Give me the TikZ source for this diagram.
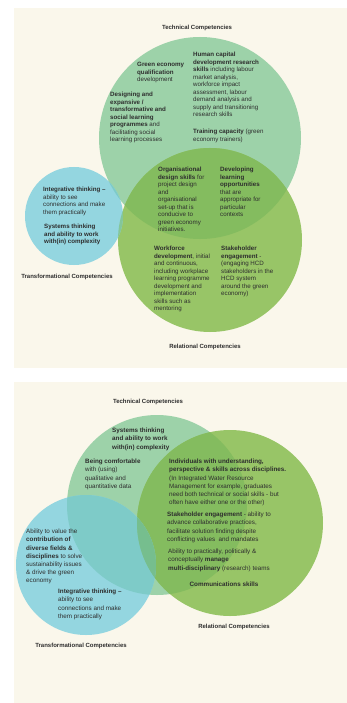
\documentclass[tikz,border=0pt]{standalone}
\usepackage{fontspec}
\setmainfont{Liberation Sans}
\definecolor{cream}{HTML}{FAF7EB}
\definecolor{techc}{HTML}{9DD2A9}
\definecolor{relc}{HTML}{98C567}
\definecolor{bluec}{HTML}{94D6E0}
\definecolor{trcol}{HTML}{84BC5F}
\definecolor{tbcol}{HTML}{7ECBC8}
\definecolor{brcol}{HTML}{84C69A}
\definecolor{tbrcol}{HTML}{76BE8E}
\definecolor{txt}{HTML}{2E2E2E}
\tikzset{
  lab/.style={font=\fontsize{6}{7}\selectfont\bfseries, text=txt, inner sep=0},
  tA/.style={anchor=north west, align=left, inner sep=0, font=\fontsize{6.2}{7.5}\selectfont, text=txt},
  tB/.style={anchor=north west, align=left, inner sep=0, font=\fontsize{6.3}{8.2}\selectfont, text=txt},
}
\begin{document}
\begin{tikzpicture}[x=1pt,y=-1pt]
\useasboundingbox (0,0) rectangle (347,703);
\fill[white] (0,0) rectangle (347,703);
\fill[cream] (14,8) rectangle (347,368);
\fill[cream] (14,382) rectangle (347,703);
% ---------- panel 1 circles ----------
\def\TA{(200,138) circle[radius=101pt]}
\def\RA{(210,240) circle[radius=92pt]}
\def\BA{(74,216) circle[radius=49pt]}
\fill[techc] \TA;
\fill[relc] \RA;
\fill[bluec] \BA;
\begin{scope}\clip \TA; \fill[trcol] \RA; \end{scope}
\begin{scope}\clip \BA; \fill[tbcol] \TA; \end{scope}
\begin{scope}\clip \BA; \fill[brcol] \RA; \end{scope}
% ---------- panel 2 circles ----------
\def\TB{(157,505) circle[radius=90pt]}
\def\RB{(230,523) circle[radius=93pt]}
\def\BB{(86,565) circle[radius=70pt]}
\fill[techc] \TB;
\fill[relc] \RB;
\fill[bluec] \BB;
\begin{scope}\clip \TB; \fill[trcol] \RB; \end{scope}
\begin{scope}\clip \BB; \fill[tbcol] \TB; \end{scope}
\begin{scope}\clip \BB; \fill[brcol] \RB; \end{scope}
\begin{scope}\clip \BB; \clip \TB; \fill[tbrcol] \RB; \end{scope}
% ---------- panel 1 text ----------
\node[lab] (tc1) at (197,28) {Technical Competencies};
\node[lab] (tr1) at (67,277) {Transformational Competencies};
\node[lab] (rl1) at (205,347) {Relational Competencies};
\node[tA] (geq) at (137,62) {\textbf{Green economy}\\\textbf{qualification}\\development};
\node[tA] (hcd) at (193,52) {\textbf{Human capital}\\\textbf{development research}\\\textbf{skills} including labour\\market analysis,\\workforce impact\\assessment, labour\\demand analysis and\\supply and transitioning\\research skills};
\node[tA] (trn) at (193,129) {\textbf{Training capacity} (green\\economy trainers)};
\node[tA] (des) at (110,92) {\textbf{Designing and}\\\textbf{expansive /}\\\textbf{transformative and}\\\textbf{social learning}\\\textbf{programmes} and\\facilitating social\\learning processes};
\node[tA] (org) at (158,167) {\textbf{Organisational}\\\textbf{design skills} for\\project design\\and\\organisational\\set-up that is\\conducive to\\green economy\\initiatives.};
\node[tA] (dev) at (220,167) {\textbf{Developing}\\\textbf{learning}\\\textbf{opportunities}\\that are\\appropriate for\\particular\\contexts};
\node[tA] (int1) at (43,187) {\textbf{Integrative thinking –}\\ability to see\\connections and make\\them practically};
\node[tA] (sys1) at (44,224) {\textbf{Systems thinking}\\\textbf{and ability to work}\\\textbf{with(in) complexity}};
\node[tA] (wf) at (154,246) {\textbf{Workforce}\\\textbf{development}, initial\\and continuous,\\including workplace\\learning programme\\development and\\implementation\\skills such as\\mentoring};
\node[tA] (stk1) at (221,246) {\textbf{Stakeholder}\\\textbf{engagement} -\\(engaging HCD\\stakeholders in the\\HCD system\\around the green\\economy)};
% ---------- panel 2 text ----------
\node[lab] (tc2) at (148,402) {Technical Competencies};
\node[lab] (tr2) at (81,646) {Transformational Competencies};
\node[lab] (rl2) at (234,627) {Relational Competencies};
\node[tB] (sys2) at (112,428) {\textbf{Systems thinking}\\\textbf{and ability to work}\\\textbf{with(in) complexity}};
\node[tB] (com) at (85,459) {\textbf{Being comfortable}\\with (using)\\qualitative and\\quantitative data};
\node[tB] (ind) at (169,459) {\textbf{Individuals with understanding,}\\\textbf{perspective \& skills across disciplines.}\\(In Integrated Water Resource\\Management for example, graduates\\need both technical or social skills - but\\often have either one or the other)};
\node[tB] (stk2) at (167,512) {\textbf{Stakeholder engagement} - ability to\\advance collaborative practices,\\facilitate solution finding despite\\conflicting values\ \ and mandates};
\node[tB] (mng) at (168,549) {Ability to practically, politically \&\\conceptually \textbf{manage}\\\textbf{multi-disciplinary} (research) teams};
\node[lab, font=\fontsize{6.3}{7}\selectfont\bfseries] (cms) at (224,584) {Communications skills};
\node[tB] (val) at (26,529) {Ability to value the\\\textbf{contribution of}\\\textbf{diverse fields \&}\\\textbf{disciplines} to solve\\sustainability issues\\\& drive the green\\economy};
\node[tB] (int2) at (58,589) {\textbf{Integrative thinking –}\\ability to see\\connections and make\\them practically};
\end{tikzpicture}
\end{document}
